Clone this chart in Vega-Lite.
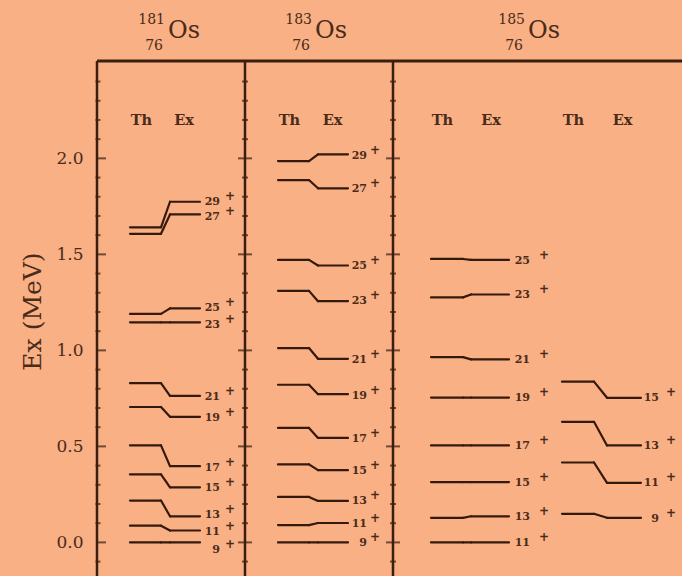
{
  "$schema": "https://vega.github.io/schema/vega-lite/v6.json",
  "width": 585,
  "height": 515,
  "autosize": {"type": "none"},
  "padding": {"left": 97, "top": 61, "right": 0, "bottom": 0},
  "background": "#f8b084",
  "config": {"view": {"stroke": null}},
  "datasets": {
    "levels": [
      {"col": 0, "spin": "9", "th": 0, "ex": 0, "lab": -0.041},
      {"col": 0, "spin": "11", "th": 0.087, "ex": 0.062, "lab": 0.056},
      {"col": 0, "spin": "13", "th": 0.218, "ex": 0.136, "lab": 0.141},
      {"col": 0, "spin": "15", "th": 0.354, "ex": 0.287, "lab": 0.283},
      {"col": 0, "spin": "17", "th": 0.505, "ex": 0.397, "lab": 0.39},
      {"col": 0, "spin": "19", "th": 0.705, "ex": 0.654, "lab": 0.649},
      {"col": 0, "spin": "21", "th": 0.829, "ex": 0.763, "lab": 0.755},
      {"col": 0, "spin": "23", "th": 1.146, "ex": 1.146, "lab": 1.134},
      {"col": 0, "spin": "25", "th": 1.19, "ex": 1.219, "lab": 1.219},
      {"col": 0, "spin": "27", "th": 1.607, "ex": 1.708, "lab": 1.693},
      {"col": 0, "spin": "29", "th": 1.641, "ex": 1.774, "lab": 1.771},
      {"col": 1, "spin": "9", "th": 0, "ex": 0, "lab": -0.005},
      {"col": 1, "spin": "11", "th": 0.09, "ex": 0.101, "lab": 0.097},
      {"col": 1, "spin": "13", "th": 0.237, "ex": 0.216, "lab": 0.213},
      {"col": 1, "spin": "15", "th": 0.406, "ex": 0.376, "lab": 0.372},
      {"col": 1, "spin": "17", "th": 0.596, "ex": 0.544, "lab": 0.538},
      {"col": 1, "spin": "19", "th": 0.821, "ex": 0.772, "lab": 0.763},
      {"col": 1, "spin": "21", "th": 1.012, "ex": 0.956, "lab": 0.951},
      {"col": 1, "spin": "23", "th": 1.31, "ex": 1.256, "lab": 1.256},
      {"col": 1, "spin": "25", "th": 1.471, "ex": 1.442, "lab": 1.437},
      {"col": 1, "spin": "27", "th": 1.887, "ex": 1.844, "lab": 1.839},
      {"col": 1, "spin": "29", "th": 1.986, "ex": 2.021, "lab": 2.014},
      {"col": 2, "spin": "11", "th": 0, "ex": 0, "lab": -0.005},
      {"col": 2, "spin": "13", "th": 0.128, "ex": 0.136, "lab": 0.131},
      {"col": 2, "spin": "15", "th": 0.314, "ex": 0.314, "lab": 0.31},
      {"col": 2, "spin": "17", "th": 0.505, "ex": 0.505, "lab": 0.5},
      {"col": 2, "spin": "19", "th": 0.754, "ex": 0.754, "lab": 0.751},
      {"col": 2, "spin": "21", "th": 0.965, "ex": 0.953, "lab": 0.951},
      {"col": 2, "spin": "23", "th": 1.276, "ex": 1.291, "lab": 1.286},
      {"col": 2, "spin": "25", "th": 1.476, "ex": 1.471, "lab": 1.467},
      {"col": 3, "spin": "9", "th": 0.149, "ex": 0.128, "lab": 0.124},
      {"col": 3, "spin": "11", "th": 0.416, "ex": 0.31, "lab": 0.31},
      {"col": 3, "spin": "13", "th": 0.628, "ex": 0.505, "lab": 0.503},
      {"col": 3, "spin": "15", "th": 0.837, "ex": 0.753, "lab": 0.751}
    ],
    "cols": [
      {"col": 0, "a": 33, "b": 64, "c": 73, "d": 103, "lx": 123, "px": 133, "hth": 44.5, "hex": 87},
      {"col": 1, "a": 181, "b": 212, "c": 221, "d": 251, "lx": 270, "px": 278, "hth": 192.5, "hex": 235.5},
      {"col": 2, "a": 334, "b": 366, "c": 374, "d": 412, "lx": 433, "px": 447, "hth": 345.5, "hex": 394},
      {"col": 3, "a": 465, "b": 497, "c": 510, "d": 544, "lx": 562, "px": 574, "hth": 476.5, "hex": 525.5}
    ],
    "ticks": [
      {"E": -0.1, "major": false}, {"E": 0.0, "major": true}, {"E": 0.1, "major": false},
      {"E": 0.2, "major": false}, {"E": 0.3, "major": false}, {"E": 0.4, "major": false},
      {"E": 0.5, "major": true}, {"E": 0.6, "major": false}, {"E": 0.7, "major": false},
      {"E": 0.8, "major": false}, {"E": 0.9, "major": false}, {"E": 1.0, "major": true},
      {"E": 1.1, "major": false}, {"E": 1.2, "major": false}, {"E": 1.3, "major": false},
      {"E": 1.4, "major": false}, {"E": 1.5, "major": true}, {"E": 1.6, "major": false},
      {"E": 1.7, "major": false}, {"E": 1.8, "major": false}, {"E": 1.9, "major": false},
      {"E": 2.0, "major": true}, {"E": 2.1, "major": false}, {"E": 2.2, "major": false},
      {"E": 2.3, "major": false}, {"E": 2.4, "major": false}
    ],
    "nuclei": [
      {"A": "181", "Z": "76", "x": 71},
      {"A": "183", "Z": "76", "x": 218},
      {"A": "185", "Z": "76", "x": 431}
    ]
  },
  "layer": [
    {
      "data": {"name": "ticks"},
      "transform": [{"filter": "datum.major"}],
      "mark": {"type": "tick", "orient": "horizontal", "size": 9, "thickness": 2, "xOffset": 4.5, "color": "#3a1f10"},
      "encoding": {
        "x": {"datum": 0, "type": "quantitative", "scale": {"domain": [0, 585], "nice": false, "zero": false}, "axis": null},
        "y": {
          "field": "E", "type": "quantitative",
          "scale": {"domain": [-0.175, 2.507], "nice": false, "zero": false},
          "axis": {
            "values": [0, 0.5, 1, 1.5, 2], "format": ".1f", "domain": false, "ticks": false, "tickSize": 0, "grid": false,
            "labelFont": "DejaVu Serif", "labelFontSize": 17, "labelColor": "#4a2b1a", "labelPadding": 14,
            "title": "Ex (MeV)", "titleFont": "DejaVu Serif", "titleFontSize": 25, "titleFontWeight": "normal",
            "titleColor": "#4a2b1a", "titlePadding": 10, "titleY": 250
          }
        }
      }
    },
    {
      "data": {"name": "ticks"},
      "transform": [{"filter": "!datum.major"}],
      "mark": {"type": "tick", "orient": "horizontal", "size": 5, "thickness": 2, "xOffset": 1, "color": "#3a1f10"},
      "encoding": {"x": {"datum": 0, "type": "quantitative"}, "y": {"field": "E", "type": "quantitative"}}
    },
    {
      "data": {"name": "ticks"},
      "transform": [{"filter": "datum.major"}],
      "mark": {"type": "tick", "orient": "horizontal", "size": 14, "thickness": 2, "color": "#3a1f10"},
      "encoding": {"x": {"datum": 148, "type": "quantitative"}, "y": {"field": "E", "type": "quantitative"}}
    },
    {
      "data": {"name": "ticks"},
      "transform": [{"filter": "!datum.major"}],
      "mark": {"type": "tick", "orient": "horizontal", "size": 6, "thickness": 2, "color": "#3a1f10"},
      "encoding": {"x": {"datum": 148, "type": "quantitative"}, "y": {"field": "E", "type": "quantitative"}}
    },
    {
      "data": {"name": "ticks"},
      "transform": [{"filter": "datum.major"}],
      "mark": {"type": "tick", "orient": "horizontal", "size": 14, "thickness": 2, "color": "#3a1f10"},
      "encoding": {"x": {"datum": 296, "type": "quantitative"}, "y": {"field": "E", "type": "quantitative"}}
    },
    {
      "data": {"name": "ticks"},
      "transform": [{"filter": "!datum.major"}],
      "mark": {"type": "tick", "orient": "horizontal", "size": 6, "thickness": 2, "color": "#3a1f10"},
      "encoding": {"x": {"datum": 296, "type": "quantitative"}, "y": {"field": "E", "type": "quantitative"}}
    },
    {
      "data": {"values": [{}]},
      "mark": {"type": "rule", "strokeWidth": 2.5, "color": "#3a1f10"},
      "encoding": {"x": {"datum": 0, "type": "quantitative"}}
    },
    {
      "data": {"values": [{}]},
      "mark": {"type": "rule", "strokeWidth": 2.5, "color": "#3a1f10"},
      "encoding": {"x": {"datum": 148, "type": "quantitative"}}
    },
    {
      "data": {"values": [{}]},
      "mark": {"type": "rule", "strokeWidth": 2.5, "color": "#3a1f10"},
      "encoding": {"x": {"datum": 296, "type": "quantitative"}}
    },
    {
      "data": {"values": [{}]},
      "mark": {"type": "rule", "strokeWidth": 3, "color": "#3a1f10"},
      "encoding": {"y": {"datum": 2.507, "type": "quantitative"}}
    },
    {
      "data": {"name": "levels"},
      "transform": [
        {"lookup": "col", "from": {"data": {"name": "cols"}, "key": "col", "fields": ["a", "b", "c", "d", "lx", "px"]}}
      ],
      "layer": [
        {
          "mark": {"type": "rule", "strokeWidth": 2.2, "strokeCap": "round", "color": "#34190c"},
          "encoding": {
            "x": {"field": "a", "type": "quantitative"}, "x2": {"field": "b"},
            "y": {"field": "th", "type": "quantitative"}
          }
        },
        {
          "mark": {"type": "rule", "strokeWidth": 2.2, "strokeCap": "round", "color": "#34190c"},
          "encoding": {
            "x": {"field": "b", "type": "quantitative"}, "x2": {"field": "c"},
            "y": {"field": "th", "type": "quantitative"}, "y2": {"field": "ex"}
          }
        },
        {
          "mark": {"type": "rule", "strokeWidth": 2.2, "strokeCap": "round", "color": "#34190c"},
          "encoding": {
            "x": {"field": "c", "type": "quantitative"}, "x2": {"field": "d"},
            "y": {"field": "ex", "type": "quantitative"}
          }
        },
        {
          "mark": {"type": "text", "align": "right", "baseline": "middle", "font": "DejaVu Serif", "fontWeight": "bold", "fontSize": 11, "color": "#4a2b1a"},
          "encoding": {
            "x": {"field": "lx", "type": "quantitative"},
            "y": {"field": "lab", "type": "quantitative"},
            "text": {"field": "spin"}
          }
        },
        {
          "mark": {"type": "text", "align": "center", "baseline": "middle", "dy": -6, "font": "DejaVu Serif", "fontWeight": "bold", "fontSize": 12, "color": "#4a2b1a", "text": "+"},
          "encoding": {
            "x": {"field": "px", "type": "quantitative"},
            "y": {"field": "lab", "type": "quantitative"}
          }
        }
      ]
    },
    {
      "data": {"name": "cols"},
      "mark": {"type": "text", "align": "center", "baseline": "middle", "font": "DejaVu Serif", "fontWeight": "bold", "fontSize": 14.5, "color": "#4a2b1a", "text": "Th"},
      "encoding": {"x": {"field": "hth", "type": "quantitative"}, "y": {"datum": 2.196, "type": "quantitative"}}
    },
    {
      "data": {"name": "cols"},
      "mark": {"type": "text", "align": "center", "baseline": "middle", "font": "DejaVu Serif", "fontWeight": "bold", "fontSize": 14.5, "color": "#4a2b1a", "text": "Ex"},
      "encoding": {"x": {"field": "hex", "type": "quantitative"}, "y": {"datum": 2.196, "type": "quantitative"}}
    },
    {
      "data": {"name": "nuclei"},
      "mark": {"type": "text", "align": "left", "baseline": "middle", "font": "DejaVu Serif", "fontSize": 24, "color": "#4a2b1a", "text": "Os"},
      "encoding": {"x": {"field": "x", "type": "quantitative"}, "y": {"datum": 2.665, "type": "quantitative"}}
    },
    {
      "data": {"name": "nuclei"},
      "mark": {"type": "text", "align": "right", "baseline": "middle", "dx": -3, "font": "DejaVu Serif", "fontSize": 14, "color": "#4a2b1a"},
      "encoding": {"x": {"field": "x", "type": "quantitative"}, "y": {"datum": 2.72, "type": "quantitative"}, "text": {"field": "A"}}
    },
    {
      "data": {"name": "nuclei"},
      "mark": {"type": "text", "align": "right", "baseline": "middle", "dx": -5, "font": "DejaVu Serif", "fontSize": 14, "color": "#4a2b1a"},
      "encoding": {"x": {"field": "x", "type": "quantitative"}, "y": {"datum": 2.585, "type": "quantitative"}, "text": {"field": "Z"}}
    }
  ]
}
